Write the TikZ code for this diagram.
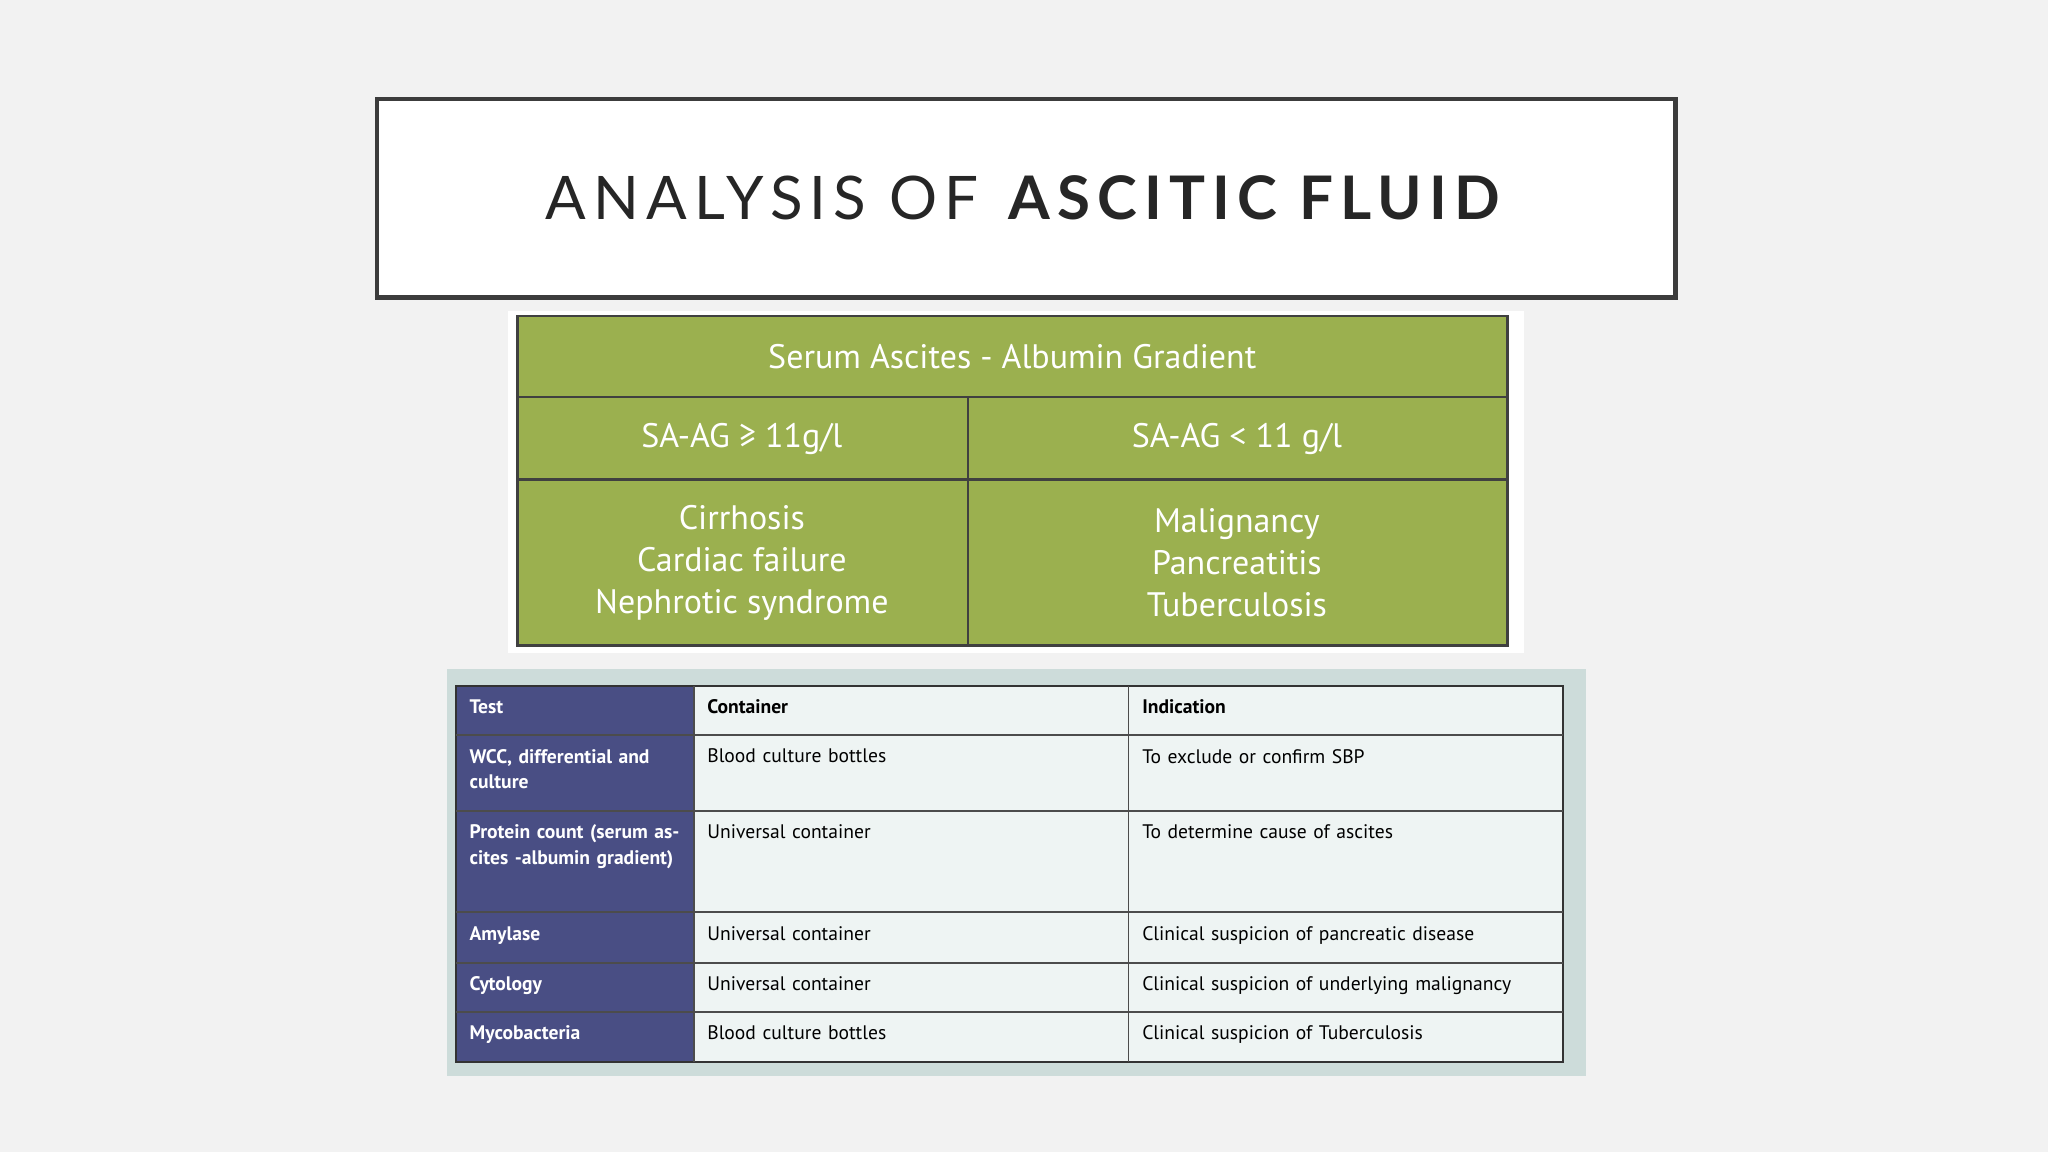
\documentclass[tikz,border=0pt]{standalone}
\usepackage{fontspec}
\setmainfont{PT Sans}
\newfontfamily\titlefont[LetterSpace=12]{Lato}
\definecolor{bg}{HTML}{F2F2F2}
\definecolor{grn}{HTML}{9BB04F}
\definecolor{navy}{HTML}{494E84}
\definecolor{cellbg}{HTML}{EEF4F3}
\definecolor{frame}{HTML}{CDDCDA}
\definecolor{ttl}{HTML}{262626}
\begin{document}
\begin{tikzpicture}[x=1pt,y=-1pt,
 gtxt/.style={text=white,font=\fontsize{26}{32}\selectfont,align=center},
 ttxt/.style={font=\fontsize{15}{19}\selectfont,align=left,anchor=north west,text width=#1},
 ttxt/.default=160pt]
\fill[bg] (0,0) rectangle (1568,882);
\useasboundingbox (0,0) rectangle (1568,882);
% title
\node[draw=ttl!90,line width=3.5pt,fill=white,minimum width=994pt,minimum height=152pt,anchor=north west] (title) at (287,74) {};
\node[text=ttl,font=\titlefont\fontsize{46}{50}\selectfont] at (title.center) {ANALYSIS OF \textbf{ASCITIC FLUID}};
% green table
\fill[white] (389,238) rectangle (1167,500);
\fill[grn] (396,242) rectangle (1154,494);
\draw[line width=2pt,black!75] (396,242) rectangle (1154,494);
\draw[line width=2pt,black!75] (396,304) -- (1154,304) (396,367) -- (1154,367) (741,304) -- (741,494);
\node[gtxt] (g1) at (775,273) {Serum Ascites - Albumin Gradient};
\node[gtxt] (g2) at (568,336) {SA-AG ≥ 11g/l};
\node[gtxt] (g3) at (947,336) {SA-AG < 11 g/l};
\node[gtxt] (g4) at (568,431) {Cirrhosis\\Cardiac failure\\Nephrotic syndrome};
\node[gtxt] (g5) at (947,431) {Malignancy\\Pancreatitis\\Tuberculosis};
% bottom table
\fill[frame] (342,512) rectangle (1214,824);
\fill[cellbg] (531,525) rectangle (1197,813);
\fill[navy] (349,525) rectangle (531,813);
\draw[line width=1.5pt,black!80] (349,525) rectangle (1197,813);
\foreach \yy in {563,621,698,737,775} \draw[line width=1.5pt,black!70] (349,\yy) -- (1197,\yy);
\foreach \xx in {531,864} \draw[line width=1.5pt,black!70] (\xx,525) -- (\xx,813);
\begin{scope}[text=white,font=\bfseries]
\node[ttxt=165pt,text=white,font=\bfseries\fontsize{15}{19.5}\selectfont] (t0) at (356,532) {Test};
\node[ttxt=165pt,text=white,font=\bfseries\fontsize{15}{19.5}\selectfont] (t1) at (356,570) {WCC, differential and culture};
\node[ttxt=165pt,text=white,font=\bfseries\fontsize{15}{19.5}\selectfont] (t2) at (356,628) {Protein count (serum ascites -albumin gradient)};
\node[ttxt=165pt,text=white,font=\bfseries\fontsize{15}{19.5}\selectfont] (t3) at (356,706) {Amylase};
\node[ttxt=165pt,text=white,font=\bfseries\fontsize{15}{19.5}\selectfont] (t4) at (356,744) {Cytology};
\node[ttxt=165pt,text=white,font=\bfseries\fontsize{15}{19.5}\selectfont] (t5) at (356,782) {Mycobacteria};
\end{scope}
\node[ttxt=320pt,font=\bfseries\fontsize{15}{19}\selectfont] (c0) at (538,532) {Container};
\node[ttxt=320pt] (c1) at (538,570) {Blood culture bottles};
\node[ttxt=320pt] (c2) at (538,628) {Universal container};
\node[ttxt=320pt] (c3) at (538,706) {Universal container};
\node[ttxt=320pt] (c4) at (538,744) {Universal container};
\node[ttxt=320pt] (c5) at (538,782) {Blood culture bottles};
\node[ttxt=320pt,font=\bfseries\fontsize{15}{19}\selectfont] (i0) at (871,532) {Indication};
\node[ttxt=320pt] (i1) at (871,570) {To exclude or confirm SBP};
\node[ttxt=320pt] (i2) at (871,628) {To determine cause of ascites};
\node[ttxt=320pt] (i3) at (871,706) {Clinical suspicion of pancreatic disease};
\node[ttxt=320pt] (i4) at (871,744) {Clinical suspicion of underlying malignancy};
\node[ttxt=320pt] (i5) at (871,782) {Clinical suspicion of Tuberculosis};
\end{tikzpicture}
\end{document}
